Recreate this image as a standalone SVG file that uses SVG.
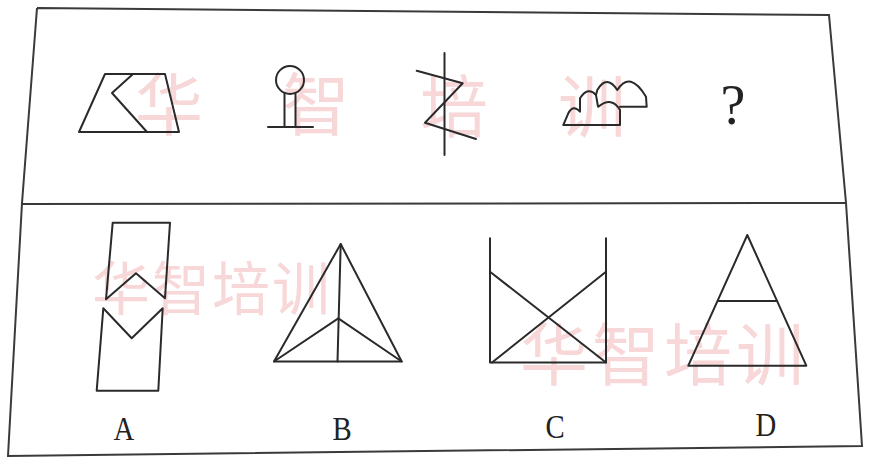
<svg xmlns="http://www.w3.org/2000/svg" width="869" height="461" viewBox="0 0 869 461">
<style>
.f{fill:none;stroke:#2a2a2a;stroke-width:2;stroke-linejoin:round;stroke-linecap:round}
.b{fill:none;stroke:#3a3a3a;stroke-width:2}
.wm{font-family:"Noto Sans CJK SC","Noto Sans CJK TC",sans-serif;fill:#f2b8b8;opacity:0.55}
.lb{font-family:"Liberation Serif",serif;fill:#222;text-anchor:middle}
</style>
<rect width="869" height="461" fill="#ffffff"/>
<g id="watermarks">
<text class="wm" x="135" y="130" font-size="68">华</text>
<text class="wm" x="282" y="130" font-size="68">智</text>
<text class="wm" x="420" y="132" font-size="68">培</text>
<text class="wm" x="558" y="132" font-size="68">训</text>
<text class="wm" x="92" y="310" font-size="58" letter-spacing="2">华智培训</text>
<text class="wm" x="520" y="380" font-size="68" letter-spacing="4">华智培训</text>
</g>
<g id="frame">
<polyline class="b" points="37,8 829,15 846,203 862,446 8,456 22,203 37,8"/>
<line class="b" x1="22" y1="204" x2="846" y2="203" stroke-width="2.6"/>
</g>
<g id="q1">
<polygon class="f" points="105,74 165,74 179,132 79,132"/>
<polyline class="f" points="133,74 112,93 147,132"/>
</g>
<g id="q2">
<circle class="f" cx="290" cy="80" r="14"/>
<line class="f" x1="284.5" y1="93" x2="284.5" y2="126"/>
<line class="f" x1="295.5" y1="93" x2="295.5" y2="126"/>
<line class="f" x1="268" y1="127" x2="313" y2="127"/>
</g>
<g id="q3">
<line class="f" x1="444.5" y1="53" x2="444.5" y2="155"/>
<polyline class="f" points="416.7,70.7 462.7,83.3 425,122.7 476,139"/>
</g>
<g id="q4">
<path class="f" d="M563.3,125 L620,125 L620,110 Q612,96 598.3,106.7 L598,106.7 L596,95 Q588,86 580,98.3 L580,111.7 Q573,104 568.3,113.3 L564,123.3 Z"/>
<path class="f" d="M596,95 L597.3,90 Q606.7,74 617.3,90 Q630,70 646,96.7 L646.7,106.7 L620,106.7"/>
</g>
<g id="q5">
<text class="lb" x="733" y="124" font-size="56">?</text>
</g>
<g id="optA">
<polyline class="f" points="106,299.3 112.7,222.7 170,222.7 165,298.3 136,273.3 106,299.3"/>
<polyline class="f" points="103.3,308.3 131.7,338.3 162.7,308.3 158.3,390.7 96.7,390.7 103.3,308.3"/>
<text class="lb" x="124" y="440" font-size="32" transform="translate(124 440) scale(0.9 1.05) translate(-124 -440)">A</text>
</g>
<g id="optB">
<polygon class="f" points="340.7,244 401.7,361.5 274,361.5"/>
<line class="f" x1="340.7" y1="244" x2="337.5" y2="361.5"/>
<polyline class="f" points="274,361.5 338.3,318.3 401.7,361.5"/>
<text class="lb" x="342" y="440" font-size="32" transform="translate(342 440) scale(0.9 1.05) translate(-342 -440)">B</text>
</g>
<g id="optC">
<polyline class="f" points="490,238.3 490,362.5 606,362.5 606,238.3"/>
<line class="f" x1="490" y1="271.7" x2="606" y2="362.5"/>
<line class="f" x1="606" y1="271.7" x2="492" y2="362.5"/>
<text class="lb" x="555" y="438" font-size="32" transform="translate(555 438) scale(0.9 1.05) translate(-555 -438)">C</text>
</g>
<g id="optD">
<polygon class="f" points="747.3,235 806.3,365.7 688.3,365.7"/>
<line class="f" x1="718.3" y1="301" x2="776.5" y2="301"/>
<text class="lb" x="766" y="436" font-size="32" transform="translate(766 436) scale(0.9 1.05) translate(-766 -436)">D</text>
</g>
</svg>
